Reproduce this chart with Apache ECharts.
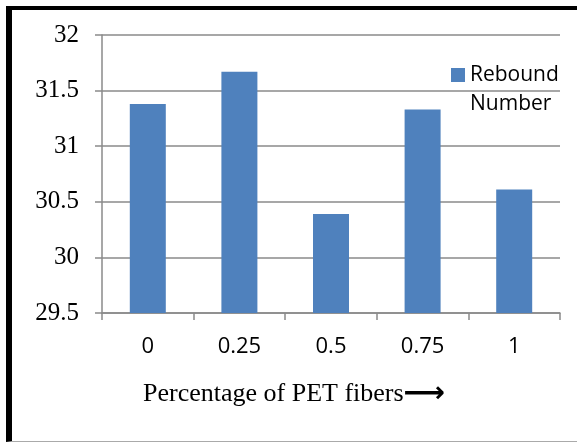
<!DOCTYPE html>
<html>
<head>
<meta charset="utf-8">
<script src="https://cdn.jsdelivr.net/npm/echarts@6/dist/echarts.min.js"></script>
<style>
  html, body { margin: 0; padding: 0; background: #fff; }
  #frame { position: absolute; left: 6px; top: 6px; width: 571px; height: 436px;
           border-left: 6px solid #000; border-top: 4px solid #000; border-bottom: 1px solid #aaa;
           box-sizing: border-box; }
  #chart { position: absolute; left: 0; top: 0; width: 577px; height: 443px; }
</style>
</head>
<body>
<div id="frame"></div>
<div id="chart"></div>
<script>
const categories = ['0', '0.25', '0.5', '0.75', '1'];
const reboundNumber = [31.38, 31.67, 30.39, 31.33, 30.61];
const seriesName = 'Rebound Number';
const xTitle = 'Percentage of PET fibers';
const yMin = 29.5, yMax = 32, yStep = 0.5;

const chart = echarts.init(document.getElementById('chart'), null, { renderer: 'canvas' });
const axisGrey = '#8a8a8a';
chart.setOption({
  backgroundColor: 'transparent',
  animation: false,
  grid: { left: 102, right: 17, top: 35, bottom: 130 },
  title: {
    text: '{t|' + xTitle + '}{a|\u27F6}',
    left: 143, top: 380, padding: 0,
    textStyle: {
      fontWeight: 'normal',
      rich: {
        t: { fontFamily: 'Liberation Serif', fontSize: 26, fontWeight: 'normal', color: '#000' },
        a: { fontFamily: 'DejaVu Sans', fontSize: 29, fontWeight: 'bold', color: '#000' }
      }
    }
  },
  legend: {
    left: 451, top: 31.5, padding: 0,
    itemWidth: 14, itemHeight: 14, itemGap: 0,
    icon: 'rect',
    formatter: () => ' \nRebound\nNumber',
    textStyle: { fontFamily: 'Open Sans', fontSize: 21, color: '#000', lineHeight: 29 },
    data: [seriesName]
  },
  xAxis: {
    type: 'category',
    data: categories,
    axisLine: { lineStyle: { color: axisGrey, width: 1.5 } },
    axisTick: { show: true, length: 7, lineStyle: { color: axisGrey, width: 1.5 } },
    axisLabel: { fontFamily: 'Open Sans', fontSize: 22, color: '#000', margin: 23 }
  },
  yAxis: {
    type: 'value',
    min: yMin, max: yMax, interval: yStep,
    axisLine: { show: true, lineStyle: { color: axisGrey, width: 1.5 } },
    axisTick: { show: true, length: 7, lineStyle: { color: axisGrey, width: 1.5 } },
    splitLine: { lineStyle: { color: axisGrey, width: 1.5 } },
    axisLabel: { fontFamily: 'Liberation Serif', fontSize: 25, color: '#000', margin: 23 }
  },
  series: [{
    name: seriesName,
    type: 'bar',
    data: reboundNumber,
    barWidth: 36,
    itemStyle: { color: '#4F81BD' }
  }]
});
</script>
</body>
</html>
